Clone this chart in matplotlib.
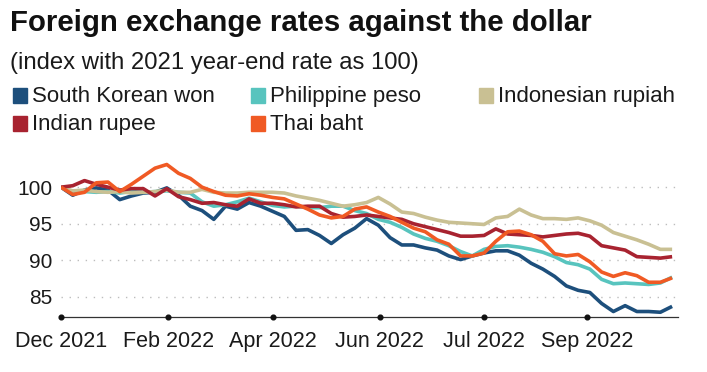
#!/usr/bin/env python3
"""Foreign exchange rates against the dollar, indexed to the 2021 year-end rate."""

import matplotlib

matplotlib.use("Agg")
import matplotlib.pyplot as plt
from matplotlib.patches import Rectangle

plt.rcParams["font.family"] = ["Liberation Sans", "DejaVu Sans"]

# trading-day index since the 2021 year-end, one reading every 4 sessions
trading_day = list(range(0, 209, 4))

south_korean_won = [
    100.0, 98.9, 99.6, 99.9, 99.6, 98.3, 98.8, 99.2, 99.3, 99.9,
    98.9, 97.4, 96.8, 95.6, 97.4, 97.0, 97.9, 97.4, 96.7, 96.0,
    94.1, 94.2, 93.4, 92.3, 93.5, 94.4, 95.7, 94.8, 93.1, 92.1,
    92.1, 91.7, 91.4, 90.6, 90.1, 90.6, 91.0, 91.3, 91.3, 90.7,
    89.6, 88.8, 87.8, 86.5, 85.9, 85.6, 84.1, 83.0, 83.8, 83.0,
    83.0, 82.9, 83.7,
]
philippine_peso = [
    100.0, 99.2, 99.4, 99.3, 99.4, 99.2, 99.4, 99.3, 99.4, 99.5,
    99.3, 99.2, 98.0, 97.4, 97.6, 98.0, 98.5, 98.0, 97.5, 97.3,
    97.4, 97.2, 97.2, 97.4, 97.4, 96.8, 96.4, 95.6, 95.2, 94.5,
    93.6, 93.0, 92.6, 92.0, 91.2, 90.6, 91.5, 91.9, 92.0, 91.8,
    91.5, 91.1, 90.5, 89.7, 89.4, 88.8, 87.4, 86.8, 86.9, 86.8,
    86.7, 86.9, 87.7,
]
indonesian_rupiah = [
    100.0, 99.5, 99.6, 99.4, 99.3, 99.4, 99.2, 99.3, 99.4, 99.6,
    99.3, 99.3, 99.7, 99.3, 99.2, 99.2, 99.3, 99.3, 99.3, 99.2,
    98.8, 98.5, 98.2, 97.8, 97.4, 97.6, 97.9, 98.6, 97.7, 96.6,
    96.4, 95.9, 95.5, 95.2, 95.1, 95.0, 94.9, 95.8, 96.0, 97.0,
    96.2, 95.7, 95.7, 95.6, 95.8, 95.4, 94.8, 93.8, 93.3, 92.8,
    92.2, 91.5, 91.5,
]
indian_rupee = [
    100.0, 100.2, 100.9, 100.4, 100.0, 99.6, 99.8, 99.8, 98.8, 99.8,
    98.7, 98.3, 97.8, 97.9, 97.6, 97.4, 98.4, 97.8, 97.8, 97.6,
    97.3, 97.4, 97.4, 96.4, 95.9, 96.0, 96.2, 96.0, 95.8, 95.6,
    95.0, 94.6, 94.2, 93.8, 93.3, 93.3, 93.4, 94.3, 93.6, 93.5,
    93.4, 93.2, 93.4, 93.6, 93.7, 93.3, 92.0, 91.7, 91.4, 90.5,
    90.4, 90.3, 90.5,
]
thai_baht = [
    100.0, 99.0, 99.3, 100.6, 100.7, 99.4, 100.4, 101.5, 102.6, 103.1,
    101.9, 101.2, 100.0, 99.4, 98.9, 98.8, 99.1, 98.9, 98.6, 98.4,
    97.7, 97.0, 96.2, 95.8, 96.0, 97.0, 97.3, 96.6, 96.0, 95.2,
    94.4, 93.9, 92.8, 92.2, 90.6, 90.6, 91.0, 92.6, 93.9, 94.0,
    93.5, 92.6, 90.9, 90.6, 90.8, 89.8, 88.4, 87.8, 88.3, 87.9,
    87.0, 87.0, 87.6,
]

series_labels = [
    "South Korean won",
    "Philippine peso",
    "Indonesian rupiah",
    "Indian rupee",
    "Thai baht",
]
series_colors = ["#1d4f7c", "#58c4be", "#c9c093", "#a82330", "#f05a24"]

tick_days = [0, 36.5, 72, 108.5, 144, 179]
tick_labels = ["Dec 2021", "Feb 2022", "Apr 2022", "Jun 2022", "Jul 2022", "Sep 2022"]
y_ticks = [85, 90, 95, 100]

W, H = 707, 372
fig = plt.figure(figsize=(W / 100, H / 100), dpi=100)
ax = fig.add_axes([61 / W, 1 - 317 / H, (678 - 61) / W, (317 - 155) / H])

series = [south_korean_won, philippine_peso, indonesian_rupiah, indian_rupee, thai_baht]
for values, color in zip(series, series_colors):
    ax.plot(trading_day, values, color=color, lw=2.6, solid_joinstyle="round",
            solid_capstyle="butt", zorder=3)

for y in y_ticks:
    ax.axhline(y, color="#bdbdbd", lw=1.0, ls=(0, (1, 4.8)), zorder=1)

ax.set_xlim(0, 210)
ax.set_ylim(82.25, 104.4)
ax.set_yticks(y_ticks)
ax.set_yticklabels([str(v) for v in y_ticks])
ax.set_xticks(tick_days)
ax.set_xticklabels(tick_labels)
ax.tick_params(axis="y", length=0, pad=6, labelsize=15, labelcolor="#1a1a1a")
ax.tick_params(axis="x", length=0, pad=10, labelsize=15.5, labelcolor="#1a1a1a")
for side in ("left", "right", "top"):
    ax.spines[side].set_visible(False)
ax.spines["bottom"].set_color("#333333")
ax.spines["bottom"].set_linewidth(0.9)
ax.plot(tick_days, [0] * len(tick_days), "o", ms=3.4, color="#111111",
        transform=ax.get_xaxis_transform(), clip_on=False, zorder=4)

fig.text(10 / W, 1 - 31 / H, "Foreign exchange rates against the dollar",
         fontsize=21.2, fontweight="bold", color="#111111", va="baseline")
fig.text(10 / W, 1 - 69 / H, "(index with 2021 year-end rate as 100)",
         fontsize=17.2, color="#1a1a1a", va="baseline")

legend_cols = [13, 251, 479]
legend_rows = [102, 130]
for i, (label, color) in enumerate(zip(series_labels, series_colors)):
    row, col = divmod(i, 3)
    x0 = legend_cols[col]
    base = legend_rows[row]
    fig.patches.append(Rectangle((x0 / W, 1 - (base + 0.5) / H), 14 / W, 15 / H,
                                 transform=fig.transFigure, color=color))
    fig.text((x0 + 19) / W, 1 - base / H, label, fontsize=16,
             color="#1a1a1a", va="baseline")

fig.savefig("out.png", dpi=100)
